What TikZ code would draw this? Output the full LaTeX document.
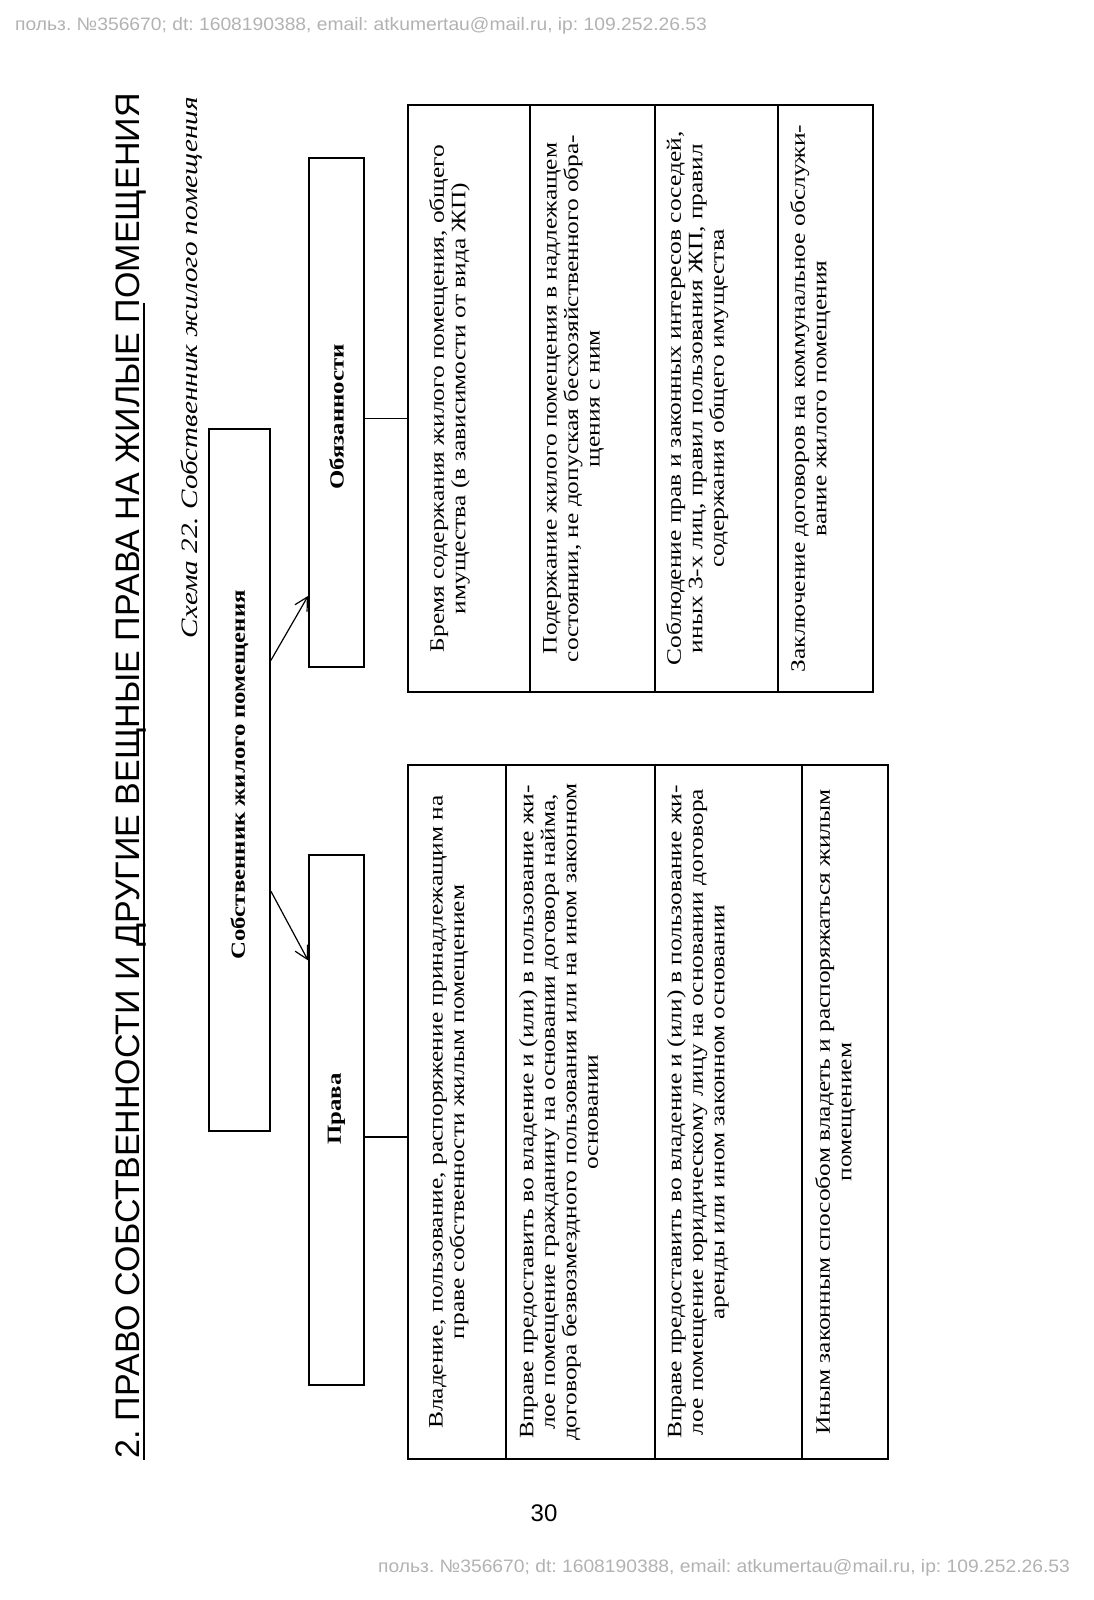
\documentclass[tikz,border=0pt]{standalone}
\usepackage{fontspec}
\setmainfont[FakeStretch=1.24]{Liberation Serif}
\newfontfamily\titlefont{Liberation Sans}
\newfontfamily\wmfont[FakeStretch=1.07]{Liberation Sans}
\newfontfamily\numfont{Liberation Sans}
\usetikzlibrary{arrows.meta,calc}
\frenchspacing
\begin{document}
\begin{tikzpicture}[x=1pt,y=-1pt,
  boxn/.style={draw, line width=1.8pt, inner sep=0pt, font=\fontsize{20}{22}\selectfont\bfseries},
  tabn/.style={draw, line width=2.4pt, inner sep=0pt},
  divl/.style={line width=1.8pt},
  conn/.style={line width=1.2pt},
  arr/.style={conn, -{Straight Barb[length=13pt,width=14pt,line width=1.2pt]}},
  cell/.style={rotate=90, anchor=north, align=center, inner sep=0pt, font=\fontsize{20.5}{21.5}\selectfont},
  wm/.style={anchor=west, inner sep=0pt, text=black!30, font=\wmfont\fontsize{18}{18}\selectfont}]
\useasboundingbox (0,0) rectangle (1093,1600);

% watermarks
\node[wm] (wm1) at (15,26) {польз. №356670; dt: 1608190388, email: atkumertau@mail.ru, ip: 109.252.26.53};
\node[wm] (wm2) at (378,1568) {польз. №356670; dt: 1608190388, email: atkumertau@mail.ru, ip: 109.252.26.53};

% title
\node[rotate=90, anchor=base west, inner sep=0pt, font=\titlefont\fontsize{34}{34}\selectfont] (title) at (139,1459)
  {2. ПРАВО СОБСТВЕННОСТИ И ДРУГИЕ ВЕЩНЫЕ ПРАВА НА ЖИЛЫЕ ПОМЕЩЕНИЯ};
\coordinate (ulA) at (144,1460);
\coordinate (ulB) at (144,303);
\draw[line width=1.3pt] (ulA) -- (ulB);

% caption
\node[rotate=90, anchor=base east, inner sep=0pt, font=\itshape\fontsize{23.5}{23.5}\selectfont] (cap) at (197,97)
  {Схема 22. Собственник жилого помещения};

% boxes
\node[boxn, minimum width=61pt, minimum height=702pt] (main) at (239.5,780)
  {\rotatebox{90}{\hspace{10pt}Собственник жилого помещения}};
\node[boxn, minimum width=55pt, minimum height=509pt] (obl) at (336.5,412.5)
  {\rotatebox{90}{Обязанности\hspace{9pt}}};
\node[boxn, minimum width=55pt, minimum height=530pt] (prava) at (336.5,1120)
  {\rotatebox{90}{\hspace{22pt}Права}};

% tables
\node[tabn, minimum width=465pt, minimum height=587pt] (otab) at (640.5,398.5) {};
\node[tabn, minimum width=480pt, minimum height=694pt] (rtab) at (648,1112) {};

\foreach \d in {123,248,371}
  \draw[divl] ($(otab.north west)+(\d,0)$) -- ($(otab.south west)+(\d,0)$);
\foreach \d in {99,248,395}
  \draw[divl] ($(rtab.north west)+(\d,0)$) -- ($(rtab.south west)+(\d,0)$);

% connectors
\draw[arr] ($(main.north east)!0.33!(main.south east)$) -- ($(obl.north west)!0.859!(obl.south west)$);
\draw[arr] ($(main.north east)!0.658!(main.south east)$) -- ($(prava.north west)!0.2!(prava.south west)$);
\draw[conn] ($(obl.north east)!0.511!(obl.south east)$) coordinate (c1) -- (c1 -| otab.west);
\draw[conn] ($(prava.north east)!0.532!(prava.south east)$) coordinate (c2) -- (c2 -| rtab.west);

% obligations text
\node[cell] (o1) at (429,398.5) {Бремя содержания жилого помещения, общего\\имущества (в зависимости от вида ЖП)};
\node[cell] (o2) at (543,398.5) {Подержание жилого помещения в надлежащем\\состоянии, не допуская бесхозяйственного обра-\\щения с ним};
\node[cell] (o3) at (666,398.5) {Соблюдение прав и законных интересов соседей,\\иных 3-х лиц, правил пользования ЖП, правил\\содержания общего имущества};
\node[cell] (o4) at (790,398.5) {Заключение договоров на коммунальное обслужи-\\вание жилого помещения};

% rights text
\node[cell] (r1) at (429,1112) {Владение, пользование, распоряжение принадлежащим на\\праве собственности жилым помещением};
\node[cell] (r2) at (519,1112) {Вправе предоставить во владение и (или) в пользование жи-\\лое помещение гражданину на основании договора найма,\\договора безвозмездного пользования или на ином законном\\основании};
\node[cell] (r3) at (667,1112) {Вправе предоставить во владение и (или) в пользование жи-\\лое помещение юридическому лицу на основании договора\\аренды или ином законном основании};
\node[cell] (r4) at (815,1112) {Иным законным способом владеть и распоряжаться жилым\\помещением};

% page number
\node[inner sep=0pt, font=\numfont\fontsize{24}{24}\selectfont] (pg) at (544,1513) {30};
\end{tikzpicture}
\end{document}
